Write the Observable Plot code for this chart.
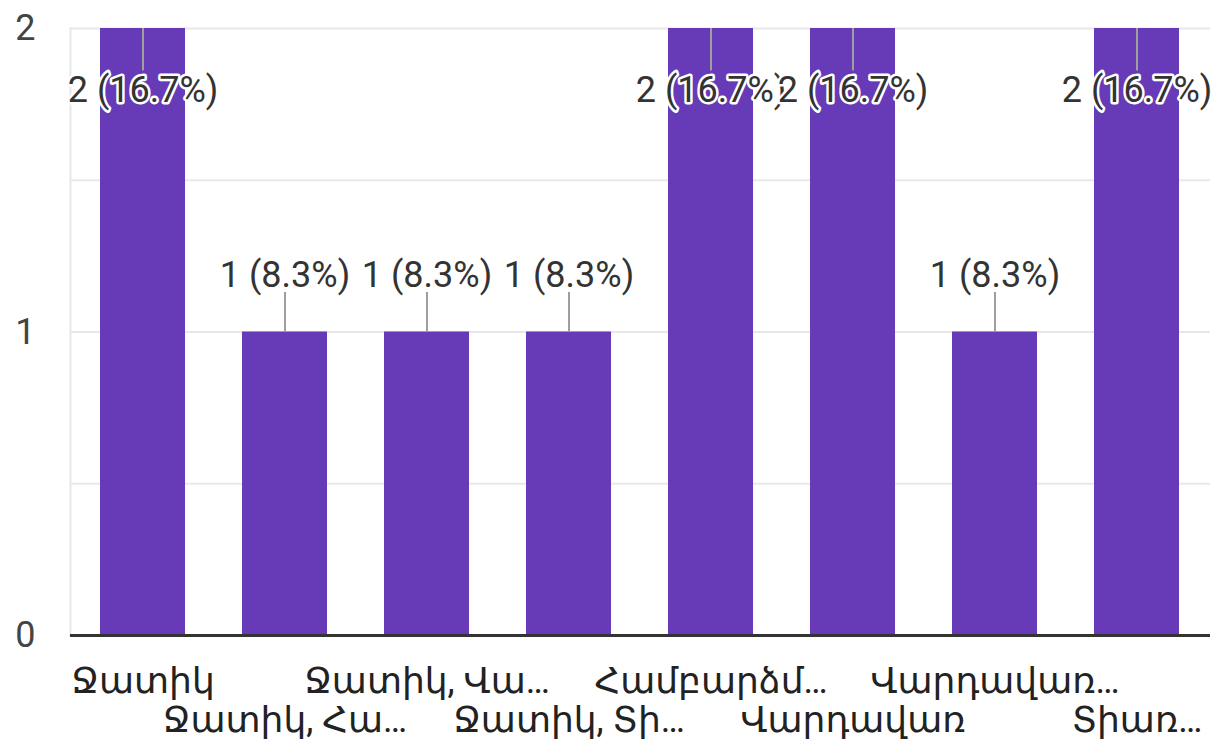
<!DOCTYPE html>
<html>
<head>
<meta charset="utf-8">
<script src="https://cdn.jsdelivr.net/npm/d3@7"></script>
<script src="https://cdn.jsdelivr.net/npm/@observablehq/plot@0.6"></script>
<style>
  html, body { margin: 0; padding: 0; background: #fff; }
  #chart svg { display: block; }
</style>
</head>
<body>
<div id="chart"></div>
<script>
const categories = ["Ջատիկ", "Ջատիկ, Հա…", "Ջատիկ, Վա…", "Ջատիկ, Տի…", "Համբարձմ…", "Վարդավառ", "Վարդավառ…", "Տիառ…"];
const counts = [2, 1, 1, 1, 2, 2, 1, 2];
const yTicks = [0, 1, 2];
const gridTicks = [0.5, 1, 1.5, 2];

const total = d3.sum(counts);
const maxCount = d3.max(counts);
const data = categories.map((c, i) => ({
  cat: c,
  count: counts[i],
  label: `${counts[i]} (${(counts[i] / total * 100).toFixed(1)}%)`
}));

const font = "Roboto, 'DejaVu Sans', sans-serif";
const fs = 36;

const chart = Plot.plot({
  width: 1227,
  height: 752,
  marginLeft: 70,
  marginRight: 17,
  marginTop: 28,
  marginBottom: 117,
  style: { fontFamily: font, fontSize: fs + "px", color: "#444", background: "#fff" },
  x: { domain: categories, paddingInner: 0.4, paddingOuter: 0.2, align: 0.5, label: null },
  y: { domain: [0, 2], label: null },
  marks: [
    Plot.ruleY(gridTicks, { stroke: "#e8e8e8", strokeWidth: 2 }),
    Plot.frame({ anchor: "left", stroke: "#e8e8e8", strokeWidth: 2 }),
    Plot.barY(data, { x: "cat", y: "count", fill: "#673ab7" }),
    Plot.ruleX(data, {
      x: "cat",
      y1: "count",
      y2: d => d.count < maxCount ? d.count + 0.13 : d.count - 0.14,
      stroke: "#9e9e9e",
      strokeWidth: 2
    }),
    Plot.text(data.filter(d => d.count < maxCount), {
      x: "cat", y: "count", text: "label", dy: -57,
      fill: "#333", stroke: "white", strokeWidth: 5, fontSize: fs, fontFamily: font
    }),
    Plot.text(data.filter(d => d.count >= maxCount), {
      x: "cat", y: "count", text: "label", dy: 62,
      fill: "#333", stroke: "white", strokeWidth: 5, fontSize: fs, fontFamily: font
    }),
    Plot.ruleY([0], { stroke: "#333", strokeWidth: 3 }),
    Plot.axisY(yTicks, { tickSize: 0, tickPadding: 35, tickFormat: d => String(d), fontSize: fs, fill: "#444", label: null }),
    Plot.axisX(categories.filter((c, i) => i % 2 === 0), { tickSize: 0, tickPadding: 32, fontSize: fs, fill: "#222", label: null }),
    Plot.axisX(categories.filter((c, i) => i % 2 === 1), { tickSize: 0, tickPadding: 71, fontSize: fs, fill: "#222", label: null })
  ]
});

document.getElementById("chart").appendChild(chart);
</script>
</body>
</html>
